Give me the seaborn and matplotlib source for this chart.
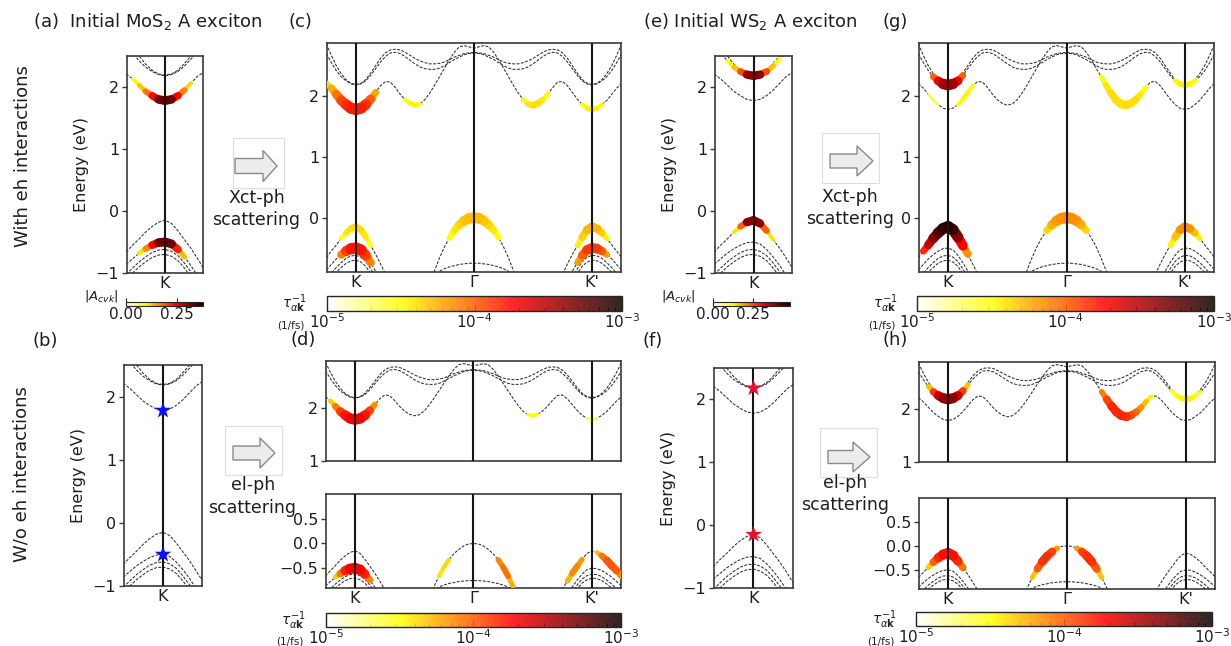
import numpy as np
import pandas as pd
import matplotlib
matplotlib.use("Agg")
import matplotlib.pyplot as plt
import seaborn as sns
from matplotlib.collections import LineCollection
from matplotlib.colors import LogNorm, Normalize
from matplotlib.patches import FancyArrow, Rectangle
from matplotlib.cm import ScalarMappable

sns.set_theme(style="ticks")
plt.rcParams['font.family'] = ['DejaVu Sans']
plt.rcParams['mathtext.fontset'] = 'dejavusans'

# ------------------------------------------------------------------ data
# k path: K = 0, Gamma = 1, K' = 2 (grid step 1/24)
K_GRID = np.arange(-6, 55) / 24.0
SYM_K = [0.0, 1.0, 2.0]
SYM_LABELS = ["K", "Γ", "K'"]

# conduction bands over the whole path (eV)
CB1 = [2.21, 2.13, 2.03, 1.93, 1.86, 1.80, 1.78, 1.80, 1.86, 1.95, 2.06, 2.17, 2.24, 2.23, 2.14, 2.03,
       1.94, 1.88, 1.85, 1.87, 1.94, 2.05, 2.18, 2.32, 2.46, 2.60, 2.72, 2.81, 2.83, 2.81, 2.79,
       2.81, 2.83, 2.81, 2.72, 2.60, 2.46, 2.32, 2.18, 2.05, 1.94, 1.87, 1.85, 1.88, 1.94, 2.03,
       2.14, 2.23, 2.24, 2.17, 2.06, 1.95, 1.86, 1.80, 1.78, 1.80, 1.86, 1.93, 2.03, 2.13, 2.21]
CB2 = [2.70, 2.55, 2.42, 2.32, 2.25, 2.20, 2.18, 2.20, 2.25, 2.34, 2.45, 2.56, 2.65, 2.71, 2.72, 2.70,
       2.65, 2.59, 2.53, 2.48, 2.45, 2.44, 2.44, 2.46, 2.50, 2.55, 2.60, 2.64, 2.68, 2.70, 2.70,
       2.70, 2.68, 2.64, 2.60, 2.55, 2.50, 2.46, 2.44, 2.44, 2.45, 2.48, 2.53, 2.59, 2.65, 2.70,
       2.72, 2.71, 2.65, 2.56, 2.45, 2.34, 2.25, 2.20, 2.18, 2.20, 2.25, 2.32, 2.42, 2.55, 2.70]
CB3 = [2.86, 2.67, 2.50, 2.37, 2.27, 2.21, 2.19, 2.21, 2.27, 2.38, 2.50, 2.62, 2.71, 2.76, 2.77, 2.76,
       2.72, 2.67, 2.62, 2.58, 2.55, 2.53, 2.53, 2.54, 2.56, 2.60, 2.64, 2.67, 2.70, 2.71, 2.72,
       2.71, 2.70, 2.67, 2.64, 2.60, 2.56, 2.54, 2.53, 2.53, 2.55, 2.58, 2.62, 2.67, 2.72, 2.76,
       2.77, 2.76, 2.71, 2.62, 2.50, 2.38, 2.27, 2.21, 2.19, 2.21, 2.27, 2.37, 2.50, 2.67, 2.86]
# valence bands around K (grid 0..12) and K' (grid 48..60)
VB1_K = [-0.66, -0.55, -0.45, -0.34, -0.25, -0.18, -0.15, -0.20, -0.32, -0.46, -0.60, -0.76, -0.93]
VB1_KP = [-0.93, -0.76, -0.60, -0.46, -0.32, -0.20, -0.15, -0.18, -0.25, -0.34, -0.45, -0.55, -0.66]
VB2_K = [-0.86, -0.77, -0.68, -0.61, -0.55, -0.51, -0.50, -0.53, -0.62, -0.74, -0.88, -1.04, -1.20]
VB2_KP = [-1.20, -1.04, -0.88, -0.74, -0.62, -0.53, -0.50, -0.51, -0.55, -0.61, -0.68, -0.77, -0.86]
VB3_K = [-1.02, -0.92, -0.82, -0.74, -0.67, -0.63, -0.62, -0.65, -0.72, -0.84, -0.98, -1.14, -1.30]
VB3_KP = [-1.30, -1.14, -0.98, -0.84, -0.72, -0.65, -0.62, -0.63, -0.67, -0.74, -0.82, -0.92, -1.02]
VB4_K = [-1.10, -1.00, -0.90, -0.82, -0.75, -0.71, -0.70, -0.73, -0.80, -0.92, -1.06, -1.22, -1.40]
VB4_KP = [-1.40, -1.22, -1.06, -0.92, -0.80, -0.73, -0.70, -0.71, -0.75, -0.82, -0.90, -1.00, -1.10]
# valence bands around Gamma (grid 21..39)
GVB1 = [-1.10, -0.87, -0.66, -0.48, -0.33, -0.21, -0.12, -0.05, -0.01, 0.00,
        -0.01, -0.05, -0.12, -0.21, -0.33, -0.48, -0.66, -0.87, -1.10]
GVB2 = [-1.02, -0.94, -0.88, -0.84, -0.81, -0.79, -0.77, -0.76, -0.75, -0.75,
        -0.75, -0.76, -0.77, -0.79, -0.81, -0.84, -0.88, -0.94, -1.02]

BAND_SEGMENTS = {
    "CB1": [(0, CB1)], "CB2": [(0, CB2)], "CB3": [(0, CB3)],
    "VB1": [(0, VB1_K), (48, VB1_KP)], "VB2": [(0, VB2_K), (48, VB2_KP)],
    "VB3": [(0, VB3_K), (48, VB3_KP)], "VB4": [(0, VB4_K), (48, VB4_KP)],
    "GVB1": [(21, GVB1)], "GVB2": [(21, GVB2)],
}

# highlighted states: (band, first grid index, value, weight)
# (a) MoS2 exciton envelope |A_cvk|
A_BLOBS = [
    ("CB1", 1, [0.09, 0.11, 0.15, 0.20, 0.28, 0.37, 0.28, 0.20, 0.14, 0.10],
     [0.30, 0.45, 0.60, 0.75, 0.90, 1.00, 0.90, 0.75, 0.55, 0.35]),
    ("VB2", 2, [0.09, 0.13, 0.20, 0.28, 0.37, 0.28, 0.17, 0.10],
     [0.40, 0.60, 0.80, 0.95, 1.00, 0.95, 0.75, 0.45]),
]
# (e) WS2 exciton envelope |A_cvk|
E_BLOBS = [
    ("CB2", 2, [0.11, 0.13, 0.20, 0.30, 0.47, 0.30, 0.20, 0.13, 0.11],
     [0.35, 0.50, 0.65, 0.85, 1.00, 0.85, 0.65, 0.50, 0.35]),
    ("VB1", 3, [0.11, 0.17, 0.30, 0.47, 0.30, 0.17, 0.11],
     [0.30, 0.55, 0.85, 1.00, 0.85, 0.55, 0.30]),
]
# (c) MoS2 Xct-ph scattering rates (1/fs)
C_BLOBS = [
    ("CB1", 0, [3.5e-5, 5e-5, 7e-5, 1.0e-4, 1.3e-4, 1.5e-4, 1.6e-4, 1.5e-4, 1.2e-4, 8e-5, 4.5e-5],
     [0.45, 0.60, 0.75, 0.85, 0.95, 1.00, 1.00, 1.00, 0.90, 0.75, 0.50]),
    ("CB1", 16, [3e-5, 3.5e-5, 3.5e-5, 3e-5], [0.30, 0.45, 0.45, 0.30]),
    ("CB1", 40, [3e-5, 3.5e-5, 4e-5, 4e-5, 3.5e-5, 3e-5], [0.35, 0.50, 0.60, 0.60, 0.50, 0.35]),
    ("CB1", 52, [3e-5, 3.5e-5, 3.5e-5, 3.5e-5, 3e-5], [0.35, 0.45, 0.50, 0.45, 0.35]),
    ("VB1", 3, [2.5e-5, 3.5e-5, 4e-5, 4e-5, 4e-5, 3.5e-5, 2.5e-5], [0.35, 0.50, 0.60, 0.65, 0.60, 0.50, 0.35]),
    ("VB2", 3, [6e-5, 1e-4, 1.5e-4, 1.8e-4, 1.5e-4, 1e-4, 6e-5], [0.60, 0.85, 1.00, 1.00, 1.00, 0.85, 0.60]),
    ("GVB1", 25, [3e-5, 3.5e-5, 4e-5, 4.5e-5, 5e-5, 5e-5, 5e-5, 4.5e-5, 4e-5, 3.5e-5, 3e-5],
     [0.45, 0.60, 0.75, 0.85, 0.95, 1.00, 0.95, 0.85, 0.75, 0.60, 0.45]),
    ("VB1", 51, [3e-5, 4e-5, 5e-5, 5.5e-5, 5e-5, 4e-5, 3e-5], [0.40, 0.60, 0.75, 0.80, 0.75, 0.60, 0.40]),
    ("VB2", 51, [5e-5, 8e-5, 1.2e-4, 1.3e-4, 1.2e-4, 8e-5, 5e-5], [0.45, 0.70, 0.85, 0.90, 0.85, 0.70, 0.45]),
]
# (d) MoS2 el-ph scattering rates (1/fs)
D_BLOBS = [
    ("CB1", 1, [3.5e-5, 6e-5, 1e-4, 1.5e-4, 1.8e-4, 2e-4, 1.8e-4, 1.5e-4, 1e-4, 5e-5],
     [0.35, 0.55, 0.75, 0.90, 1.00, 1.00, 1.00, 0.90, 0.70, 0.45]),
    ("CB1", 41, [3e-5, 3.5e-5, 3e-5], [0.30, 0.35, 0.30]),
    ("CB1", 53, [2.5e-5, 3e-5, 2.5e-5], [0.20, 0.30, 0.20]),
    ("VB2", 2, [3.5e-5, 6e-5, 1.2e-4, 1.8e-4, 2e-4, 1.8e-4, 1.2e-4, 5e-5],
     [0.40, 0.60, 0.85, 1.00, 1.00, 1.00, 0.80, 0.50]),
    ("GVB1", 23, [3e-5, 5e-5, 3.5e-5], [0.30, 0.50, 0.35]),
    ("GVB1", 35, [6e-5, 9e-5, 8e-5, 4e-5], [0.45, 0.60, 0.55, 0.35]),
    ("VB1", 49, [4e-5, 7e-5, 8e-5, 5e-5], [0.40, 0.60, 0.60, 0.40]),
    ("VB1", 55, [4e-5, 7e-5, 1e-4, 1.1e-4, 9e-5, 6e-5], [0.35, 0.55, 0.70, 0.75, 0.70, 0.55]),
]
# (g) WS2 Xct-ph scattering rates (1/fs)
G_BLOBS = [
    ("CB2", 3, [6e-5, 1.5e-4, 3e-4, 4e-4, 3e-4, 1.5e-4, 6e-5], [0.50, 0.70, 0.90, 1.00, 0.90, 0.70, 0.50]),
    ("CB1", 2, [2.5e-5, 3e-5, 2.5e-5], [0.15, 0.25, 0.15]),
    ("CB1", 8, [3e-5, 3.5e-5, 3.5e-5, 3e-5], [0.30, 0.40, 0.40, 0.30]),
    ("VB1", 1, [1e-4, 2e-4, 3.5e-4, 5e-4, 7e-4, 9e-4, 6e-4, 3e-4, 1.2e-4, 4e-5],
     [0.55, 0.70, 0.85, 0.95, 1.00, 1.05, 1.00, 0.95, 0.80, 0.55]),
    ("GVB1", 26, [3.5e-5, 5e-5, 6e-5, 7e-5, 7e-5, 7e-5, 6e-5, 5e-5, 3.5e-5],
     [0.55, 0.75, 0.90, 1.00, 1.00, 1.00, 0.90, 0.75, 0.55]),
    ("CB1", 37, [3e-5, 3.5e-5, 4e-5, 4e-5, 4e-5, 4e-5, 4e-5, 4e-5, 3.5e-5, 3e-5],
     [0.35, 0.50, 0.62, 0.70, 0.75, 0.75, 0.70, 0.62, 0.50, 0.35]),
    ("CB2", 52, [3e-5, 3.5e-5, 3.5e-5, 3.5e-5, 3e-5], [0.40, 0.50, 0.55, 0.50, 0.40]),
    ("VB1", 51, [3e-5, 4e-5, 6e-5, 8e-5, 6e-5, 4e-5, 3e-5], [0.40, 0.60, 0.75, 0.80, 0.75, 0.60, 0.40]),
]
# (h) WS2 el-ph scattering rates (1/fs)
H_BLOBS = [
    ("CB2", 2, [3e-5, 8e-5, 2e-4, 3.5e-4, 4.5e-4, 3.5e-4, 2e-4, 8e-5, 3e-5],
     [0.35, 0.60, 0.80, 0.95, 1.00, 0.95, 0.80, 0.60, 0.35]),
    ("CB1", 37, [6e-5, 1e-4, 1.4e-4, 1.5e-4, 1.4e-4, 1.2e-4, 1e-4, 8e-5, 6e-5, 4e-5, 3e-5],
     [0.45, 0.65, 0.80, 0.85, 0.85, 0.80, 0.75, 0.65, 0.55, 0.45, 0.35]),
    ("CB2", 51, [2.5e-5, 3e-5, 3.5e-5, 3.5e-5, 3.5e-5, 3e-5, 2.5e-5], [0.30, 0.40, 0.50, 0.55, 0.50, 0.40, 0.30]),
    ("VB1", 2, [3e-5, 7e-5, 1.2e-4, 1.6e-4, 1.8e-4, 1.6e-4, 1.2e-4, 6e-5],
     [0.40, 0.65, 0.85, 0.95, 1.00, 0.95, 0.80, 0.55]),
    ("GVB1", 23, [3e-5, 8e-5, 1.3e-4, 1.4e-4, 1e-4, 4e-5], [0.35, 0.60, 0.80, 0.85, 0.70, 0.40]),
    ("GVB1", 32, [4e-5, 1e-4, 1.4e-4, 1.3e-4, 8e-5, 3e-5], [0.40, 0.70, 0.85, 0.85, 0.65, 0.35]),
]
# initial electron / hole states without eh interactions (band, grid index at K)
STARS_B = [("CB1", 6), ("VB2", 6)]
STARS_F = [("CB2", 6), ("VB1", 6)]

A_MAX_MOS2 = 0.38
A_MAX_WS2 = 0.48
RATE_MIN, RATE_MAX = 1e-5, 1e-3

# ------------------------------------------------------------------ helpers
BAND_FULL = {}
rows = []
for name, segs in BAND_SEGMENTS.items():
    full = np.full(len(K_GRID), np.nan)
    for j, (i0, vals) in enumerate(segs):
        full[i0:i0 + len(vals)] = vals
        for m, v in enumerate(vals):
            rows.append({"k": K_GRID[i0 + m], "E": v, "unit": f"{name}_{j}"})
    BAND_FULL[name] = full
BANDS_DF = pd.DataFrame(rows)

W, H = 1231, 646
fig = plt.figure(figsize=(W / 100, H / 100), dpi=100)
CMAP = plt.get_cmap("hot_r")
RATE_NORM = LogNorm(RATE_MIN, RATE_MAX)
TXT = "#1e1e1e"


def px_axes(x0, y0, x1, y1):
    return fig.add_axes([x0 / W, 1 - y1 / H, (x1 - x0) / W, (y1 - y0) / H])


def band_panel(rect, xlim, ylim, yticks, xticks, xlabels, blobs=None, norm=None, lw_scale=8.0,
               ylabel=None, stars=None, star_color=None):
    ax = px_axes(*rect)
    sns.lineplot(data=BANDS_DF, x="k", y="E", units="unit", estimator=None, sort=False,
                 color="#2e2e2e", linewidth=0.75, ax=ax, legend=False)
    for ln in ax.get_lines():
        ln.set_dashes([2.8, 1.4])
    if blobs:
        for band, i0, vals, wts in blobs:
            n = len(vals)
            k = K_GRID[i0:i0 + n]
            e = BAND_FULL[band][i0:i0 + n]
            pts = np.column_stack([k, e])
            segs = np.stack([pts[:-1], pts[1:]], axis=1)
            v = np.asarray(vals, float)
            w = np.asarray(wts, float)
            if isinstance(norm, LogNorm):
                vm = np.sqrt(v[:-1] * v[1:])
            else:
                vm = 0.5 * (v[:-1] + v[1:])
            wm = 0.5 * (w[:-1] + w[1:])
            order = np.argsort(vm)
            lc = LineCollection(segs[order], colors=CMAP(norm(vm[order])),
                                linewidths=lw_scale * wm[order], capstyle="round",
                                joinstyle="round", zorder=4)
            ax.add_collection(lc)
    for kx in xticks:
        ax.axvline(kx, color="#151515", lw=1.5, zorder=5)
    if stars:
        sx = [K_GRID[i] for _, i in stars]
        sy = [BAND_FULL[b][i] for b, i in stars]
        sns.scatterplot(x=sx, y=sy, marker="*", s=160, color=star_color, edgecolor="none",
                        ax=ax, zorder=6, legend=False)
    ax.set_xlim(*xlim)
    ax.set_ylim(*ylim)
    ax.set_yticks(yticks)
    ax.set_xticks(xticks)
    if xlabels:
        ax.set_xticklabels(xlabels)
    else:
        ax.set_xticklabels([])
    ax.set_xlabel("")
    ax.set_ylabel(ylabel if ylabel else "", fontsize=11.5, color=TXT, labelpad=5)
    for s in ax.spines.values():
        s.set_color("#3a3a3a")
        s.set_linewidth(1.2)
    ax.tick_params(axis="y", direction="out", length=3.5, width=1, color="#3a3a3a",
                   labelsize=11.5, pad=2, labelcolor=TXT)
    ax.tick_params(axis="x", length=0, labelsize=11.5, pad=2, labelcolor=TXT)
    return ax


def rate_cbar(rect, label_x):
    cax = px_axes(*rect)
    sm = ScalarMappable(norm=RATE_NORM, cmap=CMAP)
    cb = fig.colorbar(sm, cax=cax, orientation="horizontal", alpha=0.85)
    cb.set_ticks([1e-5, 1e-4, 1e-3])
    cax.tick_params(which="major", direction="in", length=5, width=0.8, labelsize=11, pad=1,
                    labelcolor=TXT)
    cax.tick_params(which="minor", direction="in", length=3, width=0.6)
    cb.outline.set_linewidth(1.0)
    fig.text(label_x / W, 1 - (rect[1] + 8) / H, r"$\tau^{-1}_{\alpha\mathbf{k}}$", fontsize=10,
             ha="center", va="center", color=TXT)
    fig.text((label_x - 3) / W, 1 - (rect[1] + 29) / H, "(1/fs)", fontsize=7.5, ha="center",
             va="center", color=TXT)


def amp_cbar(rect, vmax, label_x):
    cax = px_axes(*rect)
    sm = ScalarMappable(norm=Normalize(0, vmax), cmap=CMAP)
    cb = fig.colorbar(sm, cax=cax, orientation="horizontal")
    cb.set_ticks([0.0, 0.25])
    cb.set_ticklabels(["0.00", "0.25"])
    cax.tick_params(direction="in", length=6, width=0.8, labelsize=11, pad=1, labelcolor=TXT)
    cb.outline.set_linewidth(0.8)
    fig.text(label_x / W, 1 - (rect[1] - 6) / H, r"$|A_{cvk}|$", fontsize=9.5, ha="center",
             va="center", color=TXT)


def arrow_box(box, tail, tip, cy, shaft, head, head_len):
    x0, y0, x1, y1 = box
    ax = px_axes(x0, y0, x1, y1)
    ax.set_xlim(x0, x1)
    ax.set_ylim(y1, y0)
    ax.axis("off")
    ax.add_patch(Rectangle((x0, y0), x1 - x0, y1 - y0, fill=False, ec="#dedede", lw=0.8,
                           clip_on=False))
    ax.add_patch(FancyArrow(tail, cy, tip - tail, 0, width=shaft, head_width=head,
                            head_length=head_len, length_includes_head=True, fc="#ececec",
                            ec="#8a8a8a", lw=1.0))


def ftext(x, y, s, **kw):
    kw.setdefault("color", TXT)
    fig.text(x / W, 1 - y / H, s, **kw)


SMALL_X = (-0.245, 0.245)
BIG_X = (-0.245, 2.245)
A_NORM_M = Normalize(0, A_MAX_MOS2)
A_NORM_W = Normalize(0, A_MAX_WS2)

# ------------------------------------------------------------------ panels
# (a)
band_panel((127, 56, 203, 273), SMALL_X, (-1, 2.5), [-1, 0, 1, 2], [0.0], ["K"],
           blobs=A_BLOBS, norm=A_NORM_M, lw_scale=6.5, ylabel="Energy (eV)")
amp_cbar((126, 302, 203, 306), A_MAX_MOS2, 101)
# (b)
band_panel((124, 365, 202, 586), SMALL_X, (-1, 2.5), [-1, 0, 1, 2], [0.0], ["K"],
           ylabel="Energy (eV)", stars=STARS_B, star_color="#0a10ff")
# (c)
band_panel((327, 43, 621, 272), BIG_X, (-0.894, 2.873), [0, 1, 2], SYM_K, SYM_LABELS,
           blobs=C_BLOBS, norm=RATE_NORM, lw_scale=8.0)
rate_cbar((327, 296, 622, 311), 294)
# (d)
band_panel((326, 361, 621, 461), BIG_X, (1.0, 2.88), [1, 2], SYM_K, None,
           blobs=D_BLOBS, norm=RATE_NORM, lw_scale=7.5)
band_panel((326, 494, 621, 588), BIG_X, (-0.9, 1.0), [-0.5, 0.0, 0.5], SYM_K, SYM_LABELS,
           blobs=D_BLOBS, norm=RATE_NORM, lw_scale=7.5)
rate_cbar((326, 613, 621, 627), 293)
# (e)
band_panel((715, 56, 792, 273), SMALL_X, (-1, 2.5), [-1, 0, 1, 2], [0.0], ["K"],
           blobs=E_BLOBS, norm=A_NORM_W, lw_scale=6.5, ylabel="Energy (eV)")
amp_cbar((713, 302, 790, 306), A_MAX_WS2, 678)
# (f)
band_panel((714, 368, 793, 588), SMALL_X, (-1, 2.5), [-1, 0, 1, 2], [0.0], ["K"],
           ylabel="Energy (eV)", stars=STARS_F, star_color="#e8102a")
# (g)
band_panel((919, 43, 1214, 272), BIG_X, (-0.894, 2.873), [0, 1, 2], SYM_K, SYM_LABELS,
           blobs=G_BLOBS, norm=RATE_NORM, lw_scale=8.0)
rate_cbar((917, 296, 1214, 311), 885)
# (h)
band_panel((919, 362, 1215, 462), BIG_X, (1.0, 2.88), [1, 2], SYM_K, None,
           blobs=H_BLOBS, norm=RATE_NORM, lw_scale=7.5)
band_panel((919, 498, 1215, 589), BIG_X, (-0.9, 1.0), [-0.5, 0.0, 0.5], SYM_K, SYM_LABELS,
           blobs=H_BLOBS, norm=RATE_NORM, lw_scale=7.5)
rate_cbar((916, 612, 1212, 626), 884)

# ------------------------------------------------------------------ arrows & text
arrow_box((233, 138, 284, 188), 235, 277, 166, 15, 31, 14)
arrow_box((225, 426, 282, 475), 233, 275, 453, 14, 30, 15)
arrow_box((822, 133, 879, 183), 830, 873, 161, 14, 30, 16)
arrow_box((820, 428, 877, 477), 828, 870, 457, 13, 30, 17)

SC = dict(fontsize=12.5, ha="center", va="center")
ftext(257, 198, "Xct-ph", **SC)
ftext(256, 220, "scattering", **SC)
ftext(253, 485, "el-ph", **SC)
ftext(252, 508, "scattering", **SC)
ftext(850, 197, "Xct-ph", **SC)
ftext(850, 219, "scattering", **SC)
ftext(845, 483, "el-ph", **SC)
ftext(845, 505, "scattering", **SC)

TT = dict(fontsize=13, ha="left", va="center")
ftext(33, 22, "(a)  Initial MoS$_2$ A exciton", **TT)
ftext(288, 22, "(c)", **TT)
ftext(643, 22, "(e) Initial WS$_2$ A exciton", **TT)
ftext(883, 22, "(g)", **TT)
ftext(33, 341, "(b)", **TT)
ftext(291, 340, "(d)", **TT)
ftext(643, 341, "(f)", **TT)
ftext(883, 340, "(h)", **TT)

ftext(23, 156, "With eh interactions", fontsize=13, rotation=90, ha="center", va="center")
ftext(22, 474, "W/o eh interactions", fontsize=13, rotation=90, ha="center", va="center")

fig.savefig("out.png", dpi=100)
